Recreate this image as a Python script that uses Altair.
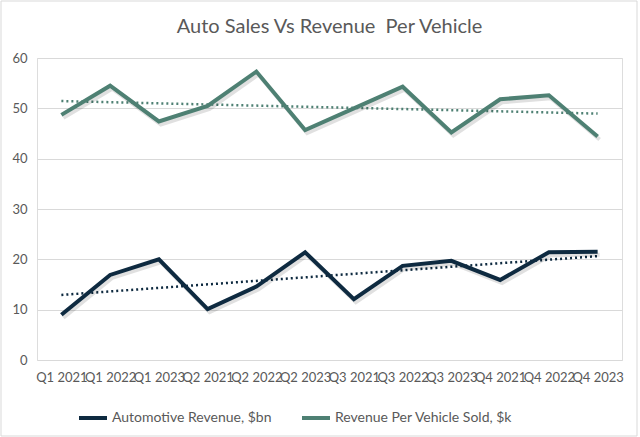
import altair as alt
import pandas as pd

quarters = ["Q1 2021", "Q1 2022", "Q1 2023", "Q2 2021", "Q2 2022", "Q2 2023",
            "Q3 2021", "Q3 2022", "Q3 2023", "Q4 2021", "Q4 2022", "Q4 2023"]
auto_revenue_bn = [9.0, 16.9, 20.0, 10.1, 14.6, 21.4, 12.1, 18.7, 19.7, 15.9, 21.4, 21.5]
rev_per_vehicle_k = [48.7, 54.5, 47.4, 50.5, 57.3, 45.7, 50.0, 54.3, 45.2, 51.8, 52.6, 44.4]

s1 = "Automotive Revenue, $bn"
s2 = "Revenue Per Vehicle Sold, $k"

rows = []
for i, q in enumerate(quarters):
    rows.append({"idx": i, "quarter": q, "series": s1, "value": auto_revenue_bn[i]})
    rows.append({"idx": i, "quarter": q, "series": s2, "value": rev_per_vehicle_k[i]})
df = pd.DataFrame(rows)

FONT = "Lato"
GREY = "#595959"
label_expr = "[" + ",".join("'" + q + "'" for q in quarters) + "][datum.value]"

x = alt.X("idx:Q", scale=alt.Scale(domain=[-0.5, 11.5], nice=False, zero=False),
          axis=alt.Axis(values=list(range(12)), labelExpr=label_expr, title=None,
                        grid=False, domain=False, ticks=False, labelFontSize=13,
                        labelColor=GREY, labelFont=FONT, labelPadding=11,
                        labelOverlap=False, labelFlush=False))
y = alt.Y("value:Q", scale=alt.Scale(domain=[0, 60], nice=False),
          axis=alt.Axis(values=[0, 10, 20, 30, 40, 50, 60], title=None, domain=False,
                        ticks=False, gridColor="#d9d9d9", gridWidth=1,
                        labelFontSize=13, labelColor=GREY, labelFont=FONT, labelPadding=10))
color = alt.Color("series:N",
                  scale=alt.Scale(domain=[s1, s2], range=["#0E2A40", "#4E8073"]),
                  legend=alt.Legend(title=None, orient="none", legendX=40, legendY=344,
                                    direction="horizontal",
                                    symbolType="stroke", symbolStrokeWidth=4,
                                    symbolSize=784, labelFontSize=14, labelFont=FONT,
                                    labelColor=GREY, labelLimit=400, columnPadding=22,
                                    labelOffset=3, symbolOffset=0))

base = alt.Chart(df)

shadow = base.mark_line(strokeWidth=4, color="#000000", opacity=0.12,
                        xOffset=2, yOffset=3).encode(
    x=x, y=y, detail="series:N")

lines = base.mark_line(strokeWidth=4, strokeJoin="miter").encode(x=x, y=y, color=color)

trend = base.transform_regression("idx", "value", groupby=["series"]).mark_line(
    strokeWidth=2.5, strokeDash=[2, 3]).encode(x=x, y=y, color=color)

border = alt.Chart(pd.DataFrame({"a": [0]})).mark_rect(
    fill=None, stroke="#d9d9d9", strokeWidth=1).encode(
    x=alt.value(-36), x2=alt.value(600), y=alt.value(-57), y2=alt.value(378))

chart = alt.layer(border, trend, shadow, lines).properties(
    width=585, height=302,
    title=alt.TitleParams("Auto Sales Vs Revenue\u00a0 Per Vehicle", fontSize=20,
                          font=FONT, fontWeight="normal", color=GREY,
                          anchor="middle", frame="group", offset=0, dy=36),
    autosize=alt.AutoSizeParams(type="none"),
    padding={"left": 37, "top": 58, "right": 18, "bottom": 77},
).configure_view(stroke=None).configure(background="white")

chart.save("out.html", embed_options={"renderer": "svg", "actions": False})
